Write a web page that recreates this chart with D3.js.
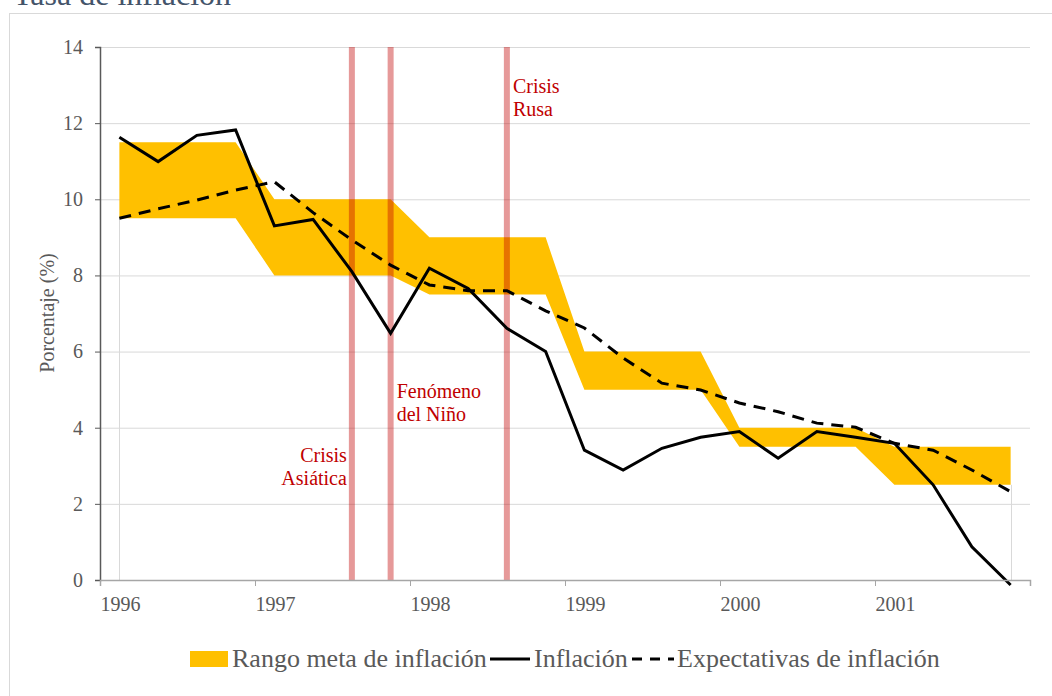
<!DOCTYPE html>
<html>
<head>
<meta charset="utf-8">
<script src="https://cdn.jsdelivr.net/npm/d3@7"></script>
<style>
  body { margin: 0; background: #fff; }
  svg { display: block; font-family: "Liberation Serif", "Times New Roman", serif; }
</style>
</head>
<body>
<script>
// Quarterly categories
const quarters = [
  "1996T1", "1996T2", "1996T3", "1996T4",
  "1997T1", "1997T2", "1997T3", "1997T4",
  "1998T1", "1998T2", "1998T3", "1998T4",
  "1999T1", "1999T2", "1999T3", "1999T4",
  "2000T1", "2000T2", "2000T3", "2000T4",
  "2001T1", "2001T2", "2001T3", "2001T4"
];
const inflacion = [11.63, 10.99, 11.68, 11.82, 9.30, 9.47, 8.10, 6.48, 8.19, 7.66, 6.61, 6.00,
                   3.41, 2.89, 3.46, 3.75, 3.90, 3.20, 3.90, 3.75, 3.59, 2.50, 0.87, -0.13];
const expectativas = [9.50, 9.75, 9.98, 10.24, 10.46, 9.65, 8.93, 8.27, 7.75, 7.60, 7.60, 7.07,
                      6.62, 5.83, 5.17, 4.99, 4.65, 4.42, 4.12, 4.01, 3.59, 3.41, 2.89, 2.32];
const metaSuperior = [11.5, 11.5, 11.5, 11.5, 10, 10, 10, 10, 9, 9, 9, 9,
                      6, 6, 6, 6, 4, 4, 4, 4, 3.5, 3.5, 3.5, 3.5];
const metaInferior = [9.5, 9.5, 9.5, 9.5, 8, 8, 8, 8, 7.5, 7.5, 7.5, 7.5,
                      5, 5, 5, 5, 3.5, 3.5, 3.5, 3.5, 2.5, 2.5, 2.5, 2.5];
const yearTicks = [1996, 1997, 1998, 1999, 2000, 2001, 2002];
const yTicks = [0, 2, 4, 6, 8, 10, 12, 14];
const crisisQuarters = ["1997T3", "1997T4", "1998T3"];
const crisisLabels = [["Crisis", "Asiática"], ["Fenómeno", "del Niño"], ["Crisis", "Rusa"]];

const W = 1052, H = 696;
const plot = { left: 100, right: 1030, top: 47, bottom: 580 };

const svg = d3.select("body").append("svg")
    .attr("width", W)
    .attr("height", H);

// outer frame + title
svg.append("rect")
    .attr("x", 9.5).attr("y", 13.5)
    .attr("width", W + 20).attr("height", H + 20)
    .attr("fill", "none")
    .attr("stroke", "#d9d9d9");

svg.append("text")
    .attr("x", 13).attr("y", 5)
    .style("font-size", "32px")
    .style("fill", "#44546a")
    .text("Tasa de inflación");

// scales
const xBand = d3.scaleBand().domain(quarters).range([plot.left, plot.right]);
const xq = q => xBand(q) + xBand.bandwidth() / 2;
const xYear = d3.scaleLinear().domain([1996, 2002]).range([plot.left, plot.right]);
const y = d3.scaleLinear().domain([0, 14]).range([plot.bottom, plot.top]);

const rows = quarters.map((q, i) => ({
  q, inf: inflacion[i], exp: expectativas[i], hi: metaSuperior[i], lo: metaInferior[i]
}));

// gridlines
svg.append("g").selectAll("line")
  .data(yTicks.filter(d => d > 0))
  .join("line")
    .attr("x1", plot.left).attr("x2", plot.right)
    .attr("y1", d => y(d) + 0.5).attr("y2", d => y(d) + 0.5)
    .attr("stroke", "#d9d9d9")
    .attr("stroke-width", 1);

// target band
svg.append("path")
    .datum(rows)
    .attr("fill", "#ffc000")
    .attr("d", d3.area().x(d => xq(d.q)).y0(d => y(d.lo)).y1(d => y(d.hi)));

// faint edges of the band's base
const ends = [rows[0], rows[rows.length - 1]];
svg.append("g").selectAll("line")
  .data(ends)
  .join("line")
    .attr("x1", d => Math.round(xq(d.q)) + 0.5).attr("x2", d => Math.round(xq(d.q)) + 0.5)
    .attr("y1", d => y(d.lo)).attr("y2", plot.bottom)
    .attr("stroke", "#d9d9d9");

// crisis markers
svg.append("g").selectAll("line")
  .data(crisisQuarters)
  .join("line")
    .attr("x1", d => xq(d)).attr("x2", d => xq(d))
    .attr("y1", plot.top).attr("y2", plot.bottom)
    .attr("stroke", "#c00000")
    .attr("stroke-opacity", 0.4)
    .attr("stroke-width", 6);

// crisis labels
const labelPos = [
  { dx: -5, y: 462, anchor: "end" },
  { dx: 6, y: 398, anchor: "start" },
  { dx: 6, y: 93, anchor: "start" }
];
crisisQuarters.forEach((q, i) => {
  const t = svg.append("text")
      .attr("text-anchor", labelPos[i].anchor)
      .style("font-size", "20px")
      .style("fill", "#c00000");
  crisisLabels[i].forEach((s, j) => {
    t.append("tspan")
      .attr("x", xq(q) + labelPos[i].dx)
      .attr("y", labelPos[i].y + j * 23)
      .text(s);
  });
});

// series lines
svg.append("path")
    .datum(rows)
    .attr("fill", "none")
    .attr("stroke", "#000")
    .attr("stroke-width", 3)
    .attr("stroke-dasharray", "12,8")
    .attr("d", d3.line().x(d => xq(d.q)).y(d => y(d.exp)));

svg.append("path")
    .datum(rows)
    .attr("fill", "none")
    .attr("stroke", "#000")
    .attr("stroke-width", 3)
    .attr("stroke-linejoin", "miter")
    .attr("d", d3.line().x(d => xq(d.q)).y(d => y(d.inf)));

// axes
const yAxis = svg.append("g")
    .attr("transform", `translate(${plot.left},0)`)
    .call(d3.axisLeft(y).tickValues(yTicks).tickSize(5).tickPadding(12));
yAxis.select(".domain").attr("stroke", "#595959").attr("stroke-width", 1.5);
yAxis.selectAll(".tick line").attr("stroke", "#595959");
yAxis.selectAll("text")
    .style("font-family", "Liberation Serif, serif")
    .style("font-size", "20px")
    .style("fill", "#595959");

const xAxis = svg.append("g")
    .attr("transform", `translate(0,${plot.bottom})`)
    .call(d3.axisBottom(xYear).tickValues(yearTicks).tickSize(6)
      .tickFormat(d => d < 2002 ? String(d) : ""));
xAxis.select(".domain").attr("stroke", "#a6a6a6").attr("stroke-width", 1.5);
xAxis.selectAll(".tick line").attr("stroke", "#a6a6a6");
xAxis.selectAll("text")
    .attr("text-anchor", "start")
    .attr("x", 0)
    .attr("y", 31)
    .attr("dy", 0)
    .style("font-family", "Liberation Serif, serif")
    .style("font-size", "20px")
    .style("fill", "#595959");

// y title
svg.append("text")
    .attr("transform", "translate(54,313) rotate(-90)")
    .attr("text-anchor", "middle")
    .style("font-size", "20px")
    .style("fill", "#595959")
    .text("Porcentaje (%)");

// legend
const lg = svg.append("g").attr("transform", "translate(0,667)");
lg.append("rect").attr("x", 190).attr("y", -16).attr("width", 38).attr("height", 16).attr("fill", "#ffc000");
lg.append("text").attr("x", 232).style("font-size", "26px").style("fill", "#595959").text("Rango meta de inflación");
lg.append("line").attr("x1", 490).attr("x2", 530).attr("y1", -8).attr("y2", -8)
    .attr("stroke", "#000").attr("stroke-width", 3);
lg.append("text").attr("x", 534).style("font-size", "26px").style("fill", "#595959").text("Inflación");
lg.append("line").attr("x1", 632).attr("x2", 674).attr("y1", -8).attr("y2", -8)
    .attr("stroke", "#000").attr("stroke-width", 3).attr("stroke-dasharray", "10,8");
lg.append("text").attr("x", 677).style("font-size", "26px").style("fill", "#595959").text("Expectativas de inflación");
</script>
</body>
</html>
